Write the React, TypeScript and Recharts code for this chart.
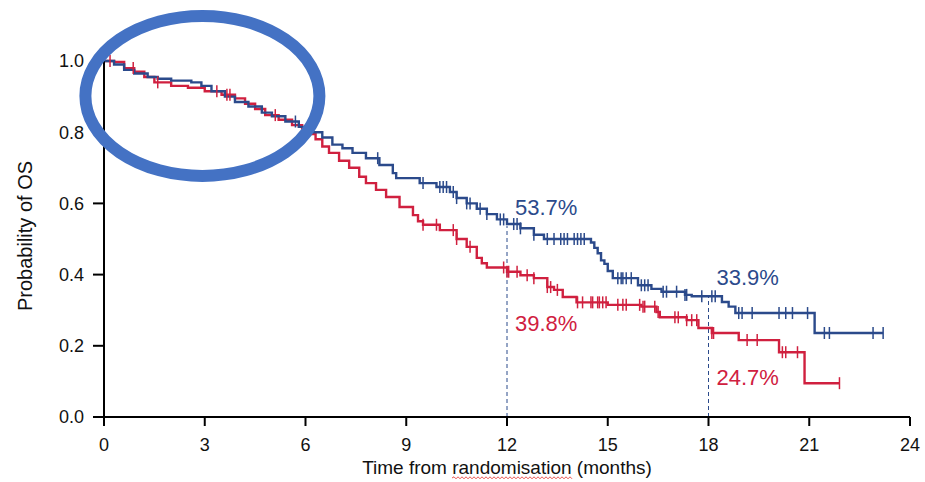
import React from 'react';
import {
  ComposedChart,
  Line,
  Scatter,
  XAxis,
  YAxis,
  ReferenceLine,
  ReferenceDot,
} from 'recharts';

// Kaplan-Meier steps: [month, survival]
const blueSteps: [number, number][] = [
  [0, 1.0], [0.3, 0.99], [0.6, 0.975], [0.9, 0.965], [1.3, 0.955], [1.6, 0.95],
  [2.0, 0.945], [2.6, 0.94], [2.9, 0.93], [3.2, 0.915], [3.6, 0.9], [3.9, 0.885],
  [4.3, 0.872], [4.7, 0.855], [5.0, 0.845], [5.4, 0.83], [5.8, 0.815], [6.1, 0.8],
  [6.5, 0.785], [6.8, 0.765], [7.1, 0.755], [7.4, 0.742], [7.8, 0.727], [8.2, 0.708],
  [8.6, 0.685], [8.7, 0.671], [9.4, 0.657], [9.9, 0.646], [10.3, 0.632], [10.5, 0.615],
  [10.8, 0.6], [11.1, 0.585], [11.4, 0.57], [11.7, 0.555], [12.0, 0.542], [12.4, 0.53],
  [12.8, 0.512], [13.1, 0.5], [14.5, 0.49], [14.6, 0.475], [14.7, 0.46], [14.8, 0.44],
  [14.9, 0.43], [15.0, 0.41], [15.15, 0.39], [15.9, 0.37], [16.3, 0.36], [16.6, 0.352],
  [17.3, 0.343], [17.5, 0.339], [18.4, 0.323], [18.6, 0.31], [18.8, 0.292], [21.16, 0.236],
  [23.2, 0.236],
];

const redSteps: [number, number][] = [
  [0, 1.0], [0.3, 0.997], [0.6, 0.98], [0.9, 0.97], [1.2, 0.955], [1.5, 0.94],
  [2.0, 0.93], [2.5, 0.925], [3.0, 0.915], [3.5, 0.905], [3.9, 0.895], [4.2, 0.88],
  [4.5, 0.865], [4.8, 0.848], [5.2, 0.835], [5.6, 0.82], [5.9, 0.81], [6.1, 0.795],
  [6.3, 0.78], [6.5, 0.76], [6.7, 0.742], [7.0, 0.72], [7.3, 0.7], [7.6, 0.675],
  [7.8, 0.657], [8.1, 0.638], [8.4, 0.618], [8.8, 0.59], [9.2, 0.567], [9.35, 0.55],
  [9.5, 0.54], [10.0, 0.525], [10.5, 0.5], [10.8, 0.478], [11.1, 0.447], [11.25, 0.432],
  [11.4, 0.42], [12.0, 0.408], [12.4, 0.398], [12.8, 0.39], [13.2, 0.365], [13.4, 0.357],
  [13.66, 0.337], [14.07, 0.322], [15.0, 0.315], [16.0, 0.31], [16.45, 0.295], [16.55, 0.28],
  [17.35, 0.272], [17.7, 0.25], [18.1, 0.236], [18.9, 0.216], [20.1, 0.182], [20.86, 0.095],
  [21.9, 0.095],
];

// censoring times (months)
const blueCensor = [
  5.7, 8.15, 9.5, 10.0, 10.1, 10.2, 10.4, 10.5, 10.8, 10.9, 11.2, 11.4, 11.8, 11.9,
  12.2, 12.3, 12.4, 12.8, 13.2, 13.4, 13.6, 13.7, 13.8, 14.0, 14.1, 14.2, 14.3,
  15.3, 15.4, 15.45, 15.55, 15.7, 16.0, 16.1, 16.2, 16.65, 16.75, 17.05, 17.3, 17.35,
  17.8, 18.1, 18.2, 18.9, 19.0, 19.3, 20.1, 20.3, 20.5, 20.95, 21.45, 21.6, 22.9, 23.2,
];
const redCensor = [
  0.18, 0.87, 1.6, 3.36, 3.66, 3.75, 5.1, 9.5, 9.9, 10.4, 10.5, 10.9, 11.9, 12.0, 12.05,
  12.3, 12.6, 12.8, 13.2, 13.3, 13.5, 14.1, 14.25, 14.5, 14.55, 14.7, 14.75, 14.85, 14.95,
  15.3, 15.45, 15.55, 15.95, 16.05, 16.1, 16.4, 16.5, 17.0, 17.1, 17.35, 17.5, 17.65,
  18.1, 18.15, 19.15, 19.45, 20.2, 20.3, 20.65, 21.9,
];

const xTicks = [0, 3, 6, 9, 12, 15, 18, 21, 24];
const yTicks = [0, 0.2, 0.4, 0.6, 0.8, 1.0];

// landmark estimates: [month, blue, red, blue label, red label]
const landmarks: [number, number, number, string, string][] = [
  [12, 0.537, 0.398, '53.7%', '39.8%'],
  [18, 0.339, 0.247, '33.9%', '24.7%'],
];

const BLUE = '#2B4A8B';
const RED = '#D0203F';
const FONT = '"Liberation Sans", Arial, sans-serif';

const toRows = (steps: [number, number][]) => steps.map(([t, s]) => ({ t, s }));

const survivalAt = (steps: [number, number][], t: number) => {
  let s = steps[0][1];
  for (const [st, sv] of steps) {
    if (st <= t) s = sv;
  }
  return s;
};

const censorRows = (steps: [number, number][], times: number[]) =>
  times.map((t) => ({ t, s: survivalAt(steps, t) }));

const tickMark = (color: string) => (props: any) => {
  const { cx, cy } = props;
  if (cx == null || cy == null) return <g />;
  return <line x1={cx} x2={cx} y1={cy - 6} y2={cy + 6} stroke={color} strokeWidth={1.5} />;
};

// red spell-check squiggle under a word
const squiggle = (x0: number, x1: number, y: number) => {
  let d = `M${x0},${y}`;
  let up = true;
  for (let x = x0 + 2; x <= x1; x += 2) {
    d += ` L${x},${up ? y - 1.2 : y + 0.8}`;
    up = !up;
  }
  return d;
};

export default function App() {
  return (
    <div style={{ position: 'absolute', left: 0, top: 0, background: '#fff', fontFamily: FONT }}>
      <ComposedChart width={925} height={482} margin={{ top: 61, right: 15, bottom: 0, left: 0 }}>
        <XAxis
          type="number"
          dataKey="t"
          domain={[0, 24]}
          ticks={xTicks}
          interval={0}
          height={65}
          tickSize={9}
          tickMargin={12}
          axisLine={{ stroke: '#000', strokeWidth: 2 }}
          tickLine={{ stroke: '#000', strokeWidth: 2 }}
          tick={{ fill: '#111', fontSize: 18, fontFamily: FONT }}
          label={{
            content: ({ viewBox }: any) => {
              const cx = viewBox.x + viewBox.width / 2;
              const by = viewBox.y + 57;
              return (
                <g>
                  <text x={cx} y={by} textAnchor="middle" fontSize={19} fontFamily={FONT} fill="#111">
                    Time from randomisation (months)
                  </text>
                  <path d={squiggle(cx - 55, cx + 65, by + 4)} stroke="#E8413C" strokeWidth={0.9} fill="none" />
                </g>
              );
            },
          }}
        />
        <YAxis
          type="number"
          domain={[0, 1]}
          ticks={yTicks}
          interval={0}
          width={104}
          tickSize={11}
          tickMargin={9}
          tickFormatter={(v: number) => v.toFixed(1)}
          axisLine={{ stroke: '#000', strokeWidth: 2 }}
          tickLine={{ stroke: '#000', strokeWidth: 2 }}
          tick={{ fill: '#111', fontSize: 18, fontFamily: FONT }}
          label={{
            content: ({ viewBox }: any) => {
              const cx = 32;
              const cy = viewBox.y + viewBox.height / 2 - 3;
              return (
                <text
                  x={cx}
                  y={cy}
                  transform={`rotate(-90 ${cx} ${cy})`}
                  textAnchor="middle"
                  fontSize={20}
                  fontFamily={FONT}
                  fill="#111"
                >
                  Probability of OS
                </text>
              );
            },
          }}
        />

        {landmarks.map(([t, b]) => (
          <ReferenceLine
            key={`lm-${t}`}
            segment={[{ x: t, y: 0 }, { x: t, y: b }]}
            stroke={BLUE}
            strokeDasharray="4 3"
            strokeWidth={1}
          />
        ))}

        <Line
          data={toRows(redSteps)}
          dataKey="s"
          type="stepAfter"
          stroke={RED}
          strokeWidth={2.4}
          dot={false}
          isAnimationActive={false}
        />
        <Line
          data={toRows(blueSteps)}
          dataKey="s"
          type="stepAfter"
          stroke={BLUE}
          strokeWidth={2.4}
          dot={false}
          isAnimationActive={false}
        />
        <Scatter
          data={censorRows(redSteps, redCensor)}
          dataKey="s"
          shape={tickMark(RED)}
          isAnimationActive={false}
        />
        <Scatter
          data={censorRows(blueSteps, blueCensor)}
          dataKey="s"
          shape={tickMark(BLUE)}
          isAnimationActive={false}
        />

        {landmarks.map(([t, b, r, bl, rl]) => (
          <React.Fragment key={`lab-${t}`}>
            <ReferenceDot
              x={t}
              y={b + 0.053}
              r={0}
              fill="none"
              stroke="none"
              label={{ value: bl, position: 'right', offset: 8, fill: BLUE, fontSize: 22, fontFamily: FONT }}
            />
            <ReferenceDot
              x={t}
              y={r - 0.134}
              r={0}
              fill="none"
              stroke="none"
              label={{ value: rl, position: 'right', offset: 8, fill: RED, fontSize: 22, fontFamily: FONT }}
            />
          </React.Fragment>
        ))}

        {/* highlight ring around the early crossing */}
        <ReferenceDot
          x={2.93}
          y={0.902}
          r={0}
          shape={(p: any) => (
            <ellipse cx={p.cx} cy={p.cy} rx={117} ry={80} fill="none" stroke="#4472C4" strokeWidth={12} />
          )}
        />
      </ComposedChart>
    </div>
  );
}
